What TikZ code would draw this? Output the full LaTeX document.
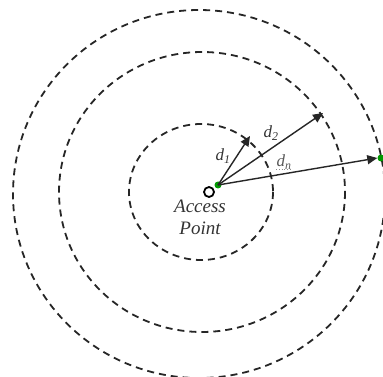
\documentclass[tikz,border=0pt]{standalone}
\usepackage{fontspec}
\setmainfont{Liberation Serif}
\usetikzlibrary{arrows.meta}
\begin{document}
\begin{tikzpicture}[x=1pt,y=-1pt,
  ring/.style={draw=black!85, line width=1.8pt, dash pattern=on 7pt off 5pt},
  ray/.style={draw=black!85, line width=1.4pt, -{Triangle[length=10pt,width=9pt]}},
  lbl/.style={font=\itshape\fontsize{17}{17}\selectfont, text=black!80, inner sep=0pt},
  greendot/.style={circle, fill=green!60!black, inner sep=0pt, minimum size=7pt}]
\useasboundingbox (0,0) rectangle (383,377);
\fill[white] (0,0) rectangle (383,377);
\draw[ring] (201,192) ellipse [x radius=72, y radius=68];
\draw[ring] (202,192) ellipse [x radius=143, y radius=140];
\draw[ring] (199,194) ellipse [x radius=186, y radius=184];
\node[circle, draw=black, line width=1.8pt, fill=white, inner sep=0pt, minimum size=10pt] (ap) at (209,192) {};
\node[greendot] (src) at (218,185) {};
\coordinate (t1) at (250,136);
\coordinate (t2) at (323,113);
\node[greendot] (dst) at (381,158) {};
\draw[ray] (src.center) -- (t1);
\draw[ray] (src.center) -- (t2);
\draw[ray] (src.center) -- (dst.west);
\node[lbl] (d1) at (223,156) {d\textsubscript{1}};
\node[lbl] (d2) at (271,133) {d\textsubscript{2}};
\node[lbl, text=black!65] (dn) at (284,162) {d\textsubscript{n}};
\draw[black!45, line width=0.7pt, dotted] (dn.south west) -- (dn.south east);
\node[lbl, align=center, font=\itshape\fontsize{19}{22}\selectfont] (txt) at (200,217) {Access\\Point};
\end{tikzpicture}
\end{document}
